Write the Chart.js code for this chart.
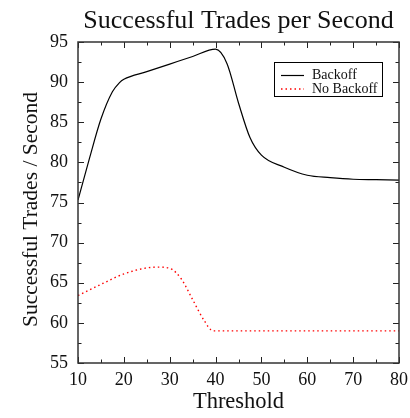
<!DOCTYPE html>
<html lang="en">
<head>
    <meta charset="UTF-8">
    <title>Successful Trades per Second</title>
    <script src="https://cdn.jsdelivr.net/npm/chart.js"></script>
    <style>
        body { margin: 0; background: #fff; }
        #wrap { width: 410px; height: 418px; }
    </style>
</head>
<body>
<div id="wrap"><canvas id="tradesChart" width="410" height="418"></canvas></div>

<script>
    // Data
    const backoffX = [10, 12.5, 15, 17.5, 19, 20, 25, 30, 35, 40, 42.5, 45, 47.5, 50, 55, 60, 65, 70, 75, 80];
    const backoffY = [75.3, 80.5, 85.4, 88.8, 89.9, 90.35, 91.3, 92.25, 93.2, 94.1, 92.3, 87.4, 83.1, 80.9, 79.4, 78.4, 78.1, 77.9, 77.85, 77.8];
    const noBackoffX = [10, 15, 20, 25, 27.5, 30, 32.5, 35, 37.5, 39.5, 45, 50, 60, 70, 80];
    const noBackoffY = [63.4, 64.8, 66.1, 66.85, 66.95, 66.8, 65.5, 62.9, 60.3, 59.0, 59.0, 59.0, 59.0, 59.0, 59.0];
    const seriesNames = ['Backoff', 'No Backoff'];
    const xRange = [10, 80];
    const yRange = [55, 95];
    const chartTitle = 'Successful Trades per Second';
    const yTitle = 'Successful Trades / Second';

    const serif = "'Liberation Serif', 'DejaVu Serif', serif";

    function toPoints(xs, ys) {
        return xs.map((x, i) => ({ x: x, y: ys[i] }));
    }

    // box with inward ticks, titles and legend
    const frame = {
        id: 'frame',
        afterDatasetsDraw(chart) {
            const { ctx, chartArea: a, scales } = chart;
            ctx.save();
            ctx.strokeStyle = '#222';
            ctx.lineWidth = 1;
            for (let v = xRange[0]; v <= xRange[1]; v += 5) {
                const px = Math.round(scales.x.getPixelForValue(v)) + 0.5;
                const len = v % 10 === 0 ? 6 : 3.5;
                ctx.beginPath();
                ctx.moveTo(px, a.bottom); ctx.lineTo(px, a.bottom - len);
                ctx.moveTo(px, a.top); ctx.lineTo(px, a.top + len);
                ctx.stroke();
            }
            for (let v = yRange[0]; v <= yRange[1]; v += 2.5) {
                const py = Math.round(scales.y.getPixelForValue(v)) + 0.5;
                const len = v % 5 === 0 ? 6 : 3.5;
                ctx.beginPath();
                ctx.moveTo(a.left, py); ctx.lineTo(a.left + len, py);
                ctx.moveTo(a.right, py); ctx.lineTo(a.right - len, py);
                ctx.stroke();
            }
            ctx.lineWidth = 1.5;
            ctx.strokeStyle = '#333';
            ctx.strokeRect(a.left, a.top, a.right - a.left, a.bottom - a.top);

            // main title, centred over the plot
            ctx.fillStyle = '#111';
            ctx.textAlign = 'center';
            ctx.textBaseline = 'alphabetic';
            ctx.font = '26px ' + serif;
            ctx.fillText(chartTitle, (a.left + a.right) / 2, 28);

            // y title
            ctx.save();
            ctx.translate(37, 209.5);
            ctx.rotate(-Math.PI / 2);
            ctx.font = '21.5px ' + serif;
            ctx.fillText(yTitle, 0, 0);
            ctx.restore();

            // legend
            const lx = 274, ly = 62, lw = 108, lh = 34;
            ctx.fillStyle = '#fff';
            ctx.fillRect(lx, ly, lw, lh);
            ctx.lineWidth = 1;
            ctx.strokeStyle = '#000';
            ctx.strokeRect(lx + 0.5, ly + 0.5, lw, lh);
            ctx.font = '14px ' + serif;
            ctx.textAlign = 'left';
            ctx.textBaseline = 'middle';
            chart.data.datasets.forEach((ds, i) => {
                const y = ly + 13.5 + i * 13.5;
                ctx.beginPath();
                ctx.strokeStyle = ds.borderColor;
                ctx.lineWidth = ds.borderWidth;
                ctx.setLineDash(ds.borderDash || []);
                ctx.moveTo(281, y); ctx.lineTo(304, y);
                ctx.stroke();
                ctx.setLineDash([]);
                ctx.fillStyle = '#111';
                ctx.fillText(ds.label, 312, y);
            });
            ctx.restore();
        }
    };

    const ctx = document.getElementById('tradesChart').getContext('2d');
    new Chart(ctx, {
        type: 'line',
        data: {
            datasets: [{
                label: seriesNames[0],
                data: toPoints(backoffX, backoffY),
                borderColor: '#000',
                borderWidth: 1.2,
                pointRadius: 0,
                cubicInterpolationMode: 'monotone'
            }, {
                label: seriesNames[1],
                data: toPoints(noBackoffX, noBackoffY),
                borderColor: '#ff0000',
                borderWidth: 1.4,
                borderDash: [1.5, 3],
                pointRadius: 0,
                cubicInterpolationMode: 'monotone'
            }]
        },
        options: {
            responsive: false,
            animation: false,
            layout: { padding: { left: 0, right: 11, top: 42, bottom: 0 } },
            plugins: {
                legend: { display: false },
                tooltip: { enabled: false },
                title: { display: false }
            },
            scales: {
                x: {
                    type: 'linear',
                    min: xRange[0],
                    max: xRange[1],
                    grid: { display: false, drawTicks: false },
                    border: { display: false },
                    ticks: { stepSize: 10, padding: 6, color: '#111', font: { family: serif, size: 18 } },
                    title: { display: true, text: 'Threshold', color: '#111', font: { family: serif, size: 22.5 }, padding: { top: 0, bottom: 2.4 } },
                    afterFit(s) { s.height = 55; s.paddingRight = 0; }
                },
                y: {
                    min: yRange[0],
                    max: yRange[1],
                    grid: { display: false, drawTicks: false },
                    border: { display: false },
                    ticks: { stepSize: 5, padding: 10, color: '#111', font: { family: serif, size: 18 } },
                    afterFit(s) { s.width = 78; s.paddingTop = 0; s.paddingBottom = 0; }
                }
            }
        },
        plugins: [frame]
    });
</script>
</body>
</html>
